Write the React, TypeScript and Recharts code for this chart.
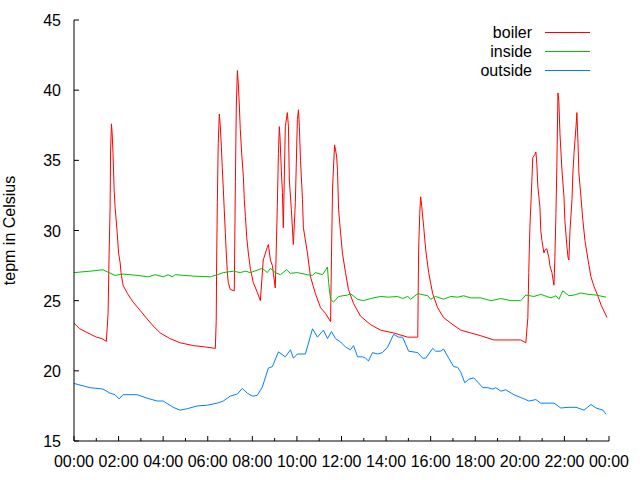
import { LineChart, Line, XAxis, YAxis, Legend } from "recharts";

const FONT = "'Liberation Sans', Arial, sans-serif";

// x axis in hours of the day, y axis in degrees
const hourTicks = [0, 1, 2, 3, 4, 5, 6, 7, 8, 9, 10, 11, 12, 13, 14, 15, 16, 17, 18, 19, 20, 21, 22, 23, 24];
const tempTicks = [15, 20, 25, 30, 35, 40, 45];

const seriesNames = ["boiler", "inside", "outside"];
const seriesColors = ["#ff0000", "#00c000", "#0080ff"];

const boilerTime = [
  0, 0.25, 0.5, 0.75, 1, 1.25, 1.45, 1.53, 1.57, 1.62, 1.64, 1.68, 1.71, 1.75, 1.8, 1.84, 1.93, 2, 2.07, 2.11,
  2.2, 2.4, 2.65, 2.97, 3.28, 3.55, 3.87, 4.3, 4.76, 5.35, 5.9, 6.34, 6.38, 6.4, 6.43, 6.47, 6.52, 6.56, 6.61, 6.65, 6.7,
  6.74, 6.79, 6.83, 6.88, 6.92, 7.01, 7.19, 7.24, 7.28, 7.33, 7.37, 7.42, 7.46, 7.53, 7.6, 7.64, 7.69, 7.75, 7.82, 7.91,
  8.04, 8.22, 8.36, 8.49, 8.67, 8.72, 8.81, 8.9, 9.03, 9.12, 9.17, 9.21, 9.24, 9.3, 9.35, 9.39, 9.48, 9.57, 9.62, 9.66,
  9.75, 9.84, 9.93, 10.02, 10.07, 10.11, 10.16, 10.25, 10.29, 10.47, 10.61, 10.83, 11.06, 11.28, 11.51, 11.55, 11.6, 11.69, 11.78, 11.82,
  11.87, 11.96, 12.04, 12.18, 12.31, 12.54, 12.85, 13.3, 13.75, 14.34, 14.97, 15.42, 15.46, 15.51, 15.55, 15.6, 15.69, 15.78, 15.91, 16.09,
  16.31, 16.58, 16.9, 17.35, 17.8, 18.25, 18.83, 20.04, 20.27, 20.36, 20.4, 20.45, 20.54, 20.58, 20.67, 20.72, 20.76, 20.81, 20.9, 20.94,
  20.99, 21.08, 21.12, 21.21, 21.3, 21.35, 21.44, 21.53, 21.57, 21.62, 21.66, 21.71, 21.75, 21.8, 21.89, 21.98, 22.02, 22.11, 22.16, 22.2,
  22.25, 22.34, 22.38, 22.43, 22.52, 22.56, 22.61, 22.65, 22.74, 22.83, 22.92, 23.06, 23.19, 23.33, 23.51, 23.64, 23.91,
];
const boilerTemp = [
  23.4, 23.0, 22.8, 22.6, 22.4, 22.3, 22.1, 24.1, 27.9, 31.7, 35.6, 37.6, 37.0, 35.5, 32.9, 31.7, 30.0, 28.4, 27.7, 27.0,
  26.1, 25.5, 24.9, 24.3, 23.7, 23.2, 22.7, 22.3, 22.0, 21.8, 21.7, 21.6, 23.6, 27.9, 32.0, 36.2, 38.3, 37.5, 36.0, 34.5, 32.9,
  31.5, 29.8, 28.4, 27.0, 26.3, 25.8, 25.7, 33.5, 38.8, 41.4, 40.5, 38.8, 37.2, 35.3, 33.8, 32.2, 31.0, 29.5, 28.4, 27.3,
  26.3, 25.6, 25.0, 27.9, 28.8, 29.0, 27.9, 27.5, 25.9, 31.7, 35.5, 37.4, 36.7, 34.3, 32.7, 30.2, 37.4, 38.4, 37.4, 33.6,
  31.5, 29.0, 32.0, 37.9, 38.6, 37.4, 35.0, 32.2, 30.2, 28.4, 26.7, 25.5, 24.5, 24.1, 23.5, 28.1, 33.1, 36.1, 35.3, 34.3,
  31.5, 29.8, 28.4, 27.0, 25.8, 24.8, 23.9, 23.3, 22.9, 22.7, 22.4, 22.4, 28.6, 31.2, 32.4, 31.7, 30.2, 28.6, 27.0, 25.5,
  24.5, 23.8, 23.4, 22.9, 22.7, 22.5, 22.2, 22.2, 22.0, 23.8, 27.0, 30.2, 33.5, 35.2, 35.4, 35.6, 34.8, 33.1, 31.7, 30.0,
  29.3, 28.4, 28.6, 28.7, 28.1, 27.5, 27.0, 26.1, 27.9, 31.2, 34.5, 39.8, 39.2, 36.9, 34.3, 32.4, 30.7, 28.9, 28.1, 27.9,
  30.0, 32.2, 34.1, 35.5, 37.4, 38.4, 36.2, 34.1, 32.4, 30.7, 29.3, 27.9, 26.7, 26.0, 25.3, 24.7, 23.8,
];

const insideTime = [
  0, 0.72, 1.3, 1.84, 2.2, 2.83, 3.33, 3.64, 4.0, 4.22, 4.4, 4.54, 5.35, 6.11, 6.43, 6.7, 7.15, 7.46, 7.69, 7.91,
  8.45, 8.67, 8.81, 9.03, 9.26, 9.53, 9.71, 10.02, 10.47, 10.7, 10.83, 11.15, 11.37, 11.42, 11.51, 11.64, 11.87, 12.27, 12.4, 12.72,
  12.99, 13.3, 13.75, 14.11, 14.52, 14.74, 14.97, 15.1, 15.42, 15.87, 16.0, 16.22, 16.58, 16.9, 17.21, 17.48, 17.8, 18.25, 18.7, 19.15,
  19.6, 20.04, 20.27, 20.63, 20.94, 21.39, 21.62, 21.75, 21.93, 22.2, 22.43, 22.74, 23.06, 23.42, 23.87,
];
const insideTemp = [
  27.0, 27.1, 27.2, 26.8, 26.9, 26.8, 26.7, 26.85, 26.7, 26.85, 26.7, 26.85, 26.75, 26.7, 26.85, 27.0, 27.1, 27.0, 27.1, 27.0,
  27.3, 27.0, 27.3, 27.0, 26.85, 27.2, 26.95, 27.0, 26.85, 26.8, 27.0, 26.85, 27.4, 26.3, 25.1, 24.9, 25.3, 25.4, 25.5, 25.1,
  25.0, 25.15, 25.3, 25.25, 25.3, 25.15, 25.3, 25.1, 25.5, 25.35, 25.1, 25.3, 25.1, 25.3, 25.25, 25.35, 25.2, 25.2, 25.0, 25.15,
  25.0, 25.0, 25.4, 25.3, 25.45, 25.2, 25.35, 25.1, 25.7, 25.35, 25.4, 25.55, 25.45, 25.4, 25.25,
];

const outsideTime = [
  0, 0.72, 1.3, 1.62, 1.84, 2.02, 2.2, 2.83, 3.28, 3.73, 4.0, 4.45, 4.76, 5.08, 5.53, 5.98, 6.43, 6.7, 7.01, 7.33,
  7.55, 7.78, 8.0, 8.22, 8.45, 8.72, 8.9, 9.17, 9.48, 9.71, 9.84, 10.02, 10.38, 10.7, 10.92, 11.19, 11.37, 11.55, 11.73, 11.96,
  12.18, 12.4, 12.54, 12.72, 12.94, 13.08, 13.21, 13.39, 13.62, 13.84, 14.07, 14.34, 14.56, 14.74, 15.01, 15.42, 15.64, 15.78, 16.09, 16.22,
  16.45, 16.58, 16.81, 17.03, 17.21, 17.35, 17.53, 17.71, 17.93, 18.11, 18.34, 18.56, 18.79, 18.92, 19.15, 19.37, 19.73, 20.04, 20.27, 20.4,
  20.72, 20.94, 21.53, 21.84, 22.16, 22.52, 22.88, 23.19, 23.42, 23.73, 23.87,
];
const outsideTemp = [
  19.1, 18.8, 18.7, 18.4, 18.3, 18.0, 18.3, 18.3, 18.05, 17.85, 17.85, 17.4, 17.2, 17.3, 17.5, 17.55, 17.7, 17.85, 18.2, 18.35,
  18.75, 18.4, 18.2, 18.25, 18.85, 20.2, 20.3, 21.35, 21.0, 21.5, 20.9, 21.2, 21.2, 23.0, 22.4, 22.9, 22.3, 22.8, 22.3, 22.05,
  21.7, 21.5, 21.8, 21.0, 21.0, 20.9, 20.7, 21.3, 21.2, 21.3, 21.7, 22.6, 22.4, 22.4, 21.4, 21.3, 20.9, 20.9, 21.6, 21.4,
  21.4, 21.55, 20.9, 20.3, 20.25, 19.9, 19.15, 19.4, 19.5, 19.2, 18.8, 18.8, 18.7, 18.8, 18.55, 18.65, 18.3, 18.1, 17.95, 17.85,
  17.95, 17.7, 17.7, 17.35, 17.4, 17.4, 17.2, 17.6, 17.35, 17.2, 16.9,
];

const toPoints = (times: number[], temps: number[]) => times.map((t, i) => ({ t, v: temps[i] }));

const series = [
  toPoints(boilerTime, boilerTemp),
  toPoints(insideTime, insideTemp),
  toPoints(outsideTime, outsideTemp),
];

const hhmm = (h: number) => `${String(h % 24).padStart(2, "0")}:00`;

function BottomTick(props: any) {
  const { x, y, payload } = props;
  const major = payload.value % 2 === 0;
  return (
    <g>
      <line x1={x} x2={x} y1={y} y2={y - (major ? 5 : 3)} stroke="#000" />
      {major && (
        <text x={x} y={y + 26} textAnchor="middle" fontFamily={FONT} fontSize={16} fill="#000">
          {hhmm(payload.value)}
        </text>
      )}
    </g>
  );
}

function TopTick(props: any) {
  const { x, y, payload } = props;
  const major = payload.value % 2 === 0;
  return <line x1={x} x2={x} y1={y} y2={y + (major ? 5 : 3)} stroke="#000" />;
}

function LeftTick(props: any) {
  const { x, y, payload } = props;
  return (
    <g>
      <line x1={x} x2={x + 5} y1={y} y2={y} stroke="#000" />
      <text x={x - 13} y={y + 6} textAnchor="end" fontFamily={FONT} fontSize={16} fill="#000">
        {payload.value}
      </text>
    </g>
  );
}

function RightTick(props: any) {
  const { x, y } = props;
  return <line x1={x} x2={x - 5} y1={y} y2={y} stroke="#000" />;
}

function LegendBox() {
  return (
    <div style={{ width: 200 }}>
      {seriesNames.map((name, i) => (
        <div key={name} style={{ display: "flex", justifyContent: "flex-end", alignItems: "center", height: 19 }}>
          <span style={{ fontFamily: FONT, fontSize: 16, color: "#000", marginRight: 13, lineHeight: "19px" }}>
            {name}
          </span>
          <div style={{ width: 45, height: 1, background: seriesColors[i] }} />
        </div>
      ))}
    </div>
  );
}

function AxisTitle(props: any) {
  const { viewBox } = props;
  const x = viewBox.x + 1;
  const y = viewBox.y + viewBox.height / 2;
  return (
    <text x={x} y={y} transform={`rotate(-90 ${x} ${y})`} textAnchor="middle" fontFamily={FONT} fontSize={16} fill="#000">
      tepm in Celsius
    </text>
  );
}

export default function App() {
  return (
    <div style={{ position: "absolute", left: 0, top: 0, width: 640, height: 480, background: "#fff" }}>
      <LineChart width={640} height={480} margin={{ top: 20, right: 31, bottom: 9, left: 14 }}>
        <XAxis
          xAxisId="b"
          type="number"
          dataKey="t"
          domain={[0, 24]}
          ticks={hourTicks}
          interval={0}
          height={30}
          tickSize={0}
          tickMargin={0}
          tickLine={false}
          axisLine={{ stroke: "#000" }}
          tick={<BottomTick />}
          allowDataOverflow
        />
        <XAxis
          xAxisId="t"
          orientation="top"
          type="number"
          dataKey="t"
          domain={[0, 24]}
          ticks={hourTicks}
          interval={0}
          height={0}
          tickSize={0}
          tickMargin={0}
          tickLine={false}
          axisLine={{ stroke: "#000" }}
          tick={<TopTick />}
          allowDataOverflow
        />
        <YAxis
          yAxisId="l"
          type="number"
          domain={[15, 45]}
          ticks={tempTicks}
          interval={0}
          width={60}
          tickSize={0}
          tickMargin={0}
          tickLine={false}
          axisLine={{ stroke: "#000" }}
          tick={<LeftTick />}
          label={{ content: <AxisTitle /> }}
          allowDataOverflow
        />
        <YAxis
          yAxisId="r"
          orientation="right"
          type="number"
          domain={[15, 45]}
          ticks={tempTicks}
          interval={0}
          width={0}
          tickSize={0}
          tickMargin={0}
          tickLine={false}
          axisLine={{ stroke: "#000" }}
          tick={<RightTick />}
          allowDataOverflow
        />
        <Legend
          layout="horizontal"
          verticalAlign="middle"
          align="center"
          width={200}
          wrapperStyle={{ top: 23, left: 390, width: 200 }}
          content={<LegendBox />}
        />
        {seriesNames.map((name, i) => (
          <Line
            key={name}
            xAxisId="b"
            yAxisId="l"
            name={name}
            data={series[i]}
            dataKey="v"
            stroke={seriesColors[i]}
            strokeWidth={1}
            dot={false}
            activeDot={false}
            isAnimationActive={false}
          />
        ))}
      </LineChart>
    </div>
  );
}
